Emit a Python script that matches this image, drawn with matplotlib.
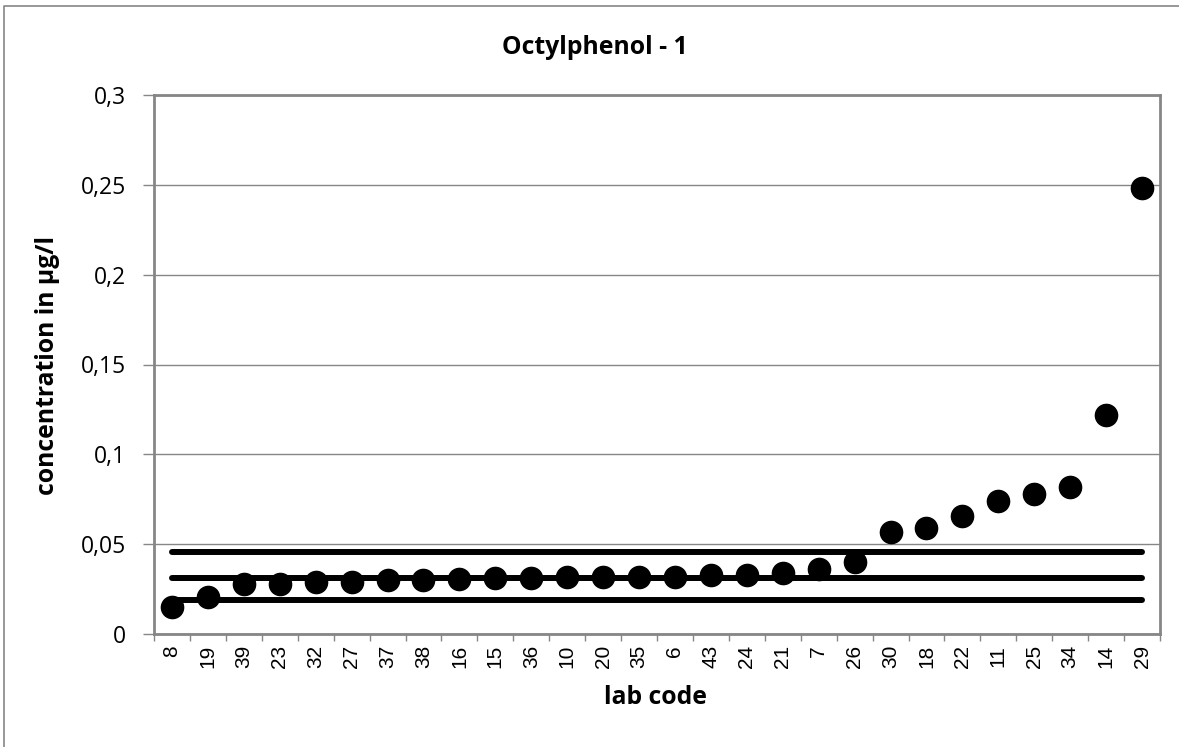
import matplotlib.pyplot as plt
import numpy as np
from matplotlib.lines import Line2D

# lab codes, sorted by result
labs = ['8', '19', '39', '23', '32', '27', '37', '38', '16', '15', '36', '10', '20', '35',
        '6', '43', '24', '21', '7', '26', '30', '18', '22', '11', '25', '34', '14', '29']
conc = [0.0148, 0.0208, 0.0277, 0.0277, 0.0288, 0.0288, 0.0299, 0.0299, 0.0306, 0.031,
        0.031, 0.0317, 0.0317, 0.0317, 0.0319, 0.0328, 0.0328, 0.0338, 0.036, 0.0403,
        0.057, 0.0588, 0.0657, 0.0739, 0.0778, 0.0818, 0.1219, 0.248]
# reference value and tolerance limits
upper = 0.0459
mean = 0.0312
lower = 0.0192

grey = '#868686'
fig = plt.figure(figsize=(11.79, 7.47), dpi=100)
ax = fig.add_axes([154/1179, 1-634/747, (1160-154)/1179, (634-95)/747])

x = np.arange(len(labs))
for lvl in [upper, mean, lower]:
    ax.plot([x[0], x[-1]], [lvl, lvl], '-', color='black', lw=4.3,
            solid_capstyle='round', zorder=3)
ax.plot(x, conc, 'o', color='black', markersize=16, zorder=4)

ax.set_xlim(-0.5, len(labs)-0.5)
ax.set_ylim(0, 0.3)
yt = [0, 0.05, 0.1, 0.15, 0.2, 0.25, 0.3]
ax.set_yticks(yt)
ax.set_yticklabels([('%g' % v).replace('.', ',') for v in yt],
                   fontfamily='Open Sans', fontsize=16.5)
ax.yaxis.grid(True, color=grey, lw=1)
ax.set_axisbelow(True)

ax.set_xticks(x)
ax.set_xticklabels(labs, rotation=90, fontfamily='Liberation Sans', fontsize=15)
ax.set_xticks(np.arange(-0.5, len(labs)), minor=True)
ax.tick_params(axis='x', which='major', length=0, pad=8)
ax.tick_params(axis='x', which='minor', length=5, color=grey, width=1)
ax.tick_params(axis='y', length=8, color=grey, width=1, pad=12)

for s in ax.spines.values():
    s.set_color(grey)
    s.set_linewidth(2)

fig.text(595/1179, 1-48/747, 'Octylphenol - 1', ha='center', va='center',
         fontfamily='Open Sans', fontweight='bold', fontsize=17.8)
fig.text(656/1179, 1-698/747, 'lab code', ha='center', va='center',
         fontfamily='Open Sans', fontweight='bold', fontsize=17.8)
fig.text(48/1179, 1-365/747, 'concentration in µg/l', ha='center', va='center',
         rotation=90, fontfamily='Open Sans', fontweight='bold', fontsize=17.8)

# outer chart border (only left and top edges fall inside the picture)
fig.lines.append(Line2D([4/1179, 4/1179, 1], [0, 1-6/747, 1-6/747],
                        transform=fig.transFigure, color=grey, lw=1.2))

plt.savefig('out.png')
